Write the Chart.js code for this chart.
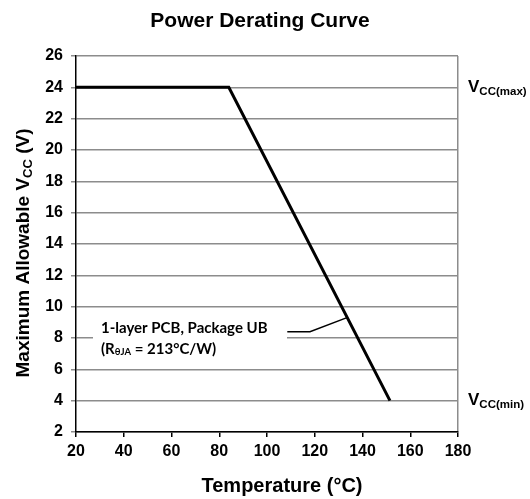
<!DOCTYPE html>
<html lang="en">
<head>
    <meta charset="UTF-8">
    <title>Power Derating Curve</title>
    <script src="https://cdn.jsdelivr.net/npm/chart.js"></script>
    <style>
        body { margin: 0; background: #fff; }
        canvas { display: block; }
    </style>
</head>
<body>
    <canvas id="derating" width="530" height="499"></canvas>

    <script>
        // curve data
        const temps = [20, 84, 151.5];
        const vccLimit = [24, 24, 4];

        // leader line from the PCB label to the curve
        const leaderX = [108.5, 118, 133.5];
        const leaderY = [8.4, 8.4, 9.3];

        const xMin = 20, xMax = 180, xStep = 20;
        const yMin = 2, yMax = 26, yStep = 2;
        const vccMax = 24, vccMin = 4;

        const AR = '"Liberation Sans", Arial, sans-serif';
        const CAL = 'Lato, "Open Sans", sans-serif';

        // draws text made of several runs (normal + subscript), left aligned
        function runs(ctx, parts, x, y) {
            let cx = x;
            parts.forEach(p => {
                ctx.font = p.font;
                ctx.fillText(p.t, cx, y + (p.dy || 0));
                cx += ctx.measureText(p.t).width;
            });
            return cx - x;
        }
        function runsWidth(ctx, parts) {
            let w = 0;
            parts.forEach(p => { ctx.font = p.font; w += ctx.measureText(p.t).width; });
            return w;
        }

        const textPlugin = {
            id: 'texts',
            afterDraw(chart) {
                const ctx = chart.ctx;
                const xs = chart.scales.x, ys = chart.scales.y;
                ctx.save();
                ctx.fillStyle = '#000';
                ctx.textBaseline = 'middle';

                // title
                ctx.font = 'bold 21px ' + AR;
                ctx.textAlign = 'center';
                ctx.fillText('Power Derating Curve', 260, 21);

                // x title
                ctx.font = 'bold 20px ' + AR;
                ctx.fillText('Temperature (°C)', 282, 486);

                // y title
                ctx.textAlign = 'left';
                const yParts = [
                    {t: 'Maximum Allowable V', font: 'bold 19px ' + AR},
                    {t: 'CC', font: 'bold 13px ' + AR, dy: 4},
                    {t: ' (V)', font: 'bold 19px ' + AR}
                ];
                ctx.save();
                ctx.translate(24, 253);
                ctx.rotate(-Math.PI / 2);
                runs(ctx, yParts, -runsWidth(ctx, yParts) / 2, 0);
                ctx.restore();

                // Vcc(max) / Vcc(min)
                const vx = xs.right + 10;
                [[vccMax, '(max)'], [vccMin, '(min)']].forEach(([v, s]) => {
                    const py = ys.getPixelForValue(v);
                    runs(ctx, [
                        {t: 'V', font: 'bold 17px ' + AR},
                        {t: 'CC' + s, font: 'bold 11.5px ' + AR, dy: 4}
                    ], vx, py);
                });

                // PCB label box
                ctx.fillStyle = '#fff';
                ctx.fillRect(93, 316, 194, 46);
                ctx.fillStyle = '#000';
                ctx.font = 'bold 15px ' + CAL;
                ctx.fillText('1-layer PCB, Package UB', 101, 328);
                runs(ctx, [
                    {t: '(R', font: 'bold 15px ' + CAL},
                    {t: 'θJA', font: 'bold 9.5px ' + CAL, dy: 3},
                    {t: ' = 213°C/W)', font: 'bold 15px ' + CAL}
                ], 101, 349);

                ctx.restore();
            }
        };

        const ctx = document.getElementById('derating').getContext('2d');
        const chart = new Chart(ctx, {
            type: 'line',
            data: {
                datasets: [{
                    data: temps.map((t, i) => ({x: t, y: vccLimit[i]})),
                    borderColor: '#000',
                    borderWidth: 3,
                    pointRadius: 0,
                    tension: 0,
                    fill: false
                }, {
                    data: leaderX.map((t, i) => ({x: t, y: leaderY[i]})),
                    borderColor: '#000',
                    borderWidth: 1.5,
                    pointRadius: 0,
                    tension: 0,
                    fill: false
                }]
            },
            options: {
                responsive: false,
                animation: false,
                devicePixelRatio: 1,
                layout: { padding: { top: 56, right: 72, left: 0, bottom: 0 } },
                plugins: {
                    legend: { display: false },
                    tooltip: { enabled: false }
                },
                scales: {
                    x: {
                        type: 'linear',
                        min: xMin, max: xMax,
                        afterFit: s => { s.height = 67; },
                        ticks: {
                            stepSize: xStep,
                            color: '#000',
                            padding: 5,
                            maxRotation: 0,
                            font: { family: AR, size: 16, weight: 'bold' }
                        },
                        grid: {
                            color: c => c.index === c.scale.ticks.length - 1 ? '#8c8c8c' : 'rgba(0,0,0,0)',
                            lineWidth: 1.5,
                            tickColor: '#000',
                            tickLength: 5
                        },
                        border: { color: '#000', width: 1.5 }
                    },
                    y: {
                        min: yMin, max: yMax,
                        afterFit: s => { s.width = 76; },
                        ticks: {
                            stepSize: yStep,
                            color: '#000',
                            padding: 8,
                            font: { family: AR, size: 16, weight: 'bold' }
                        },
                        grid: {
                            color: '#8c8c8c',
                            lineWidth: 1.5,
                            tickColor: '#8c8c8c',
                            tickLength: 5
                        },
                        border: { color: '#000', width: 1.5 }
                    }
                }
            },
            plugins: [textPlugin]
        });
    </script>
</body>
</html>
